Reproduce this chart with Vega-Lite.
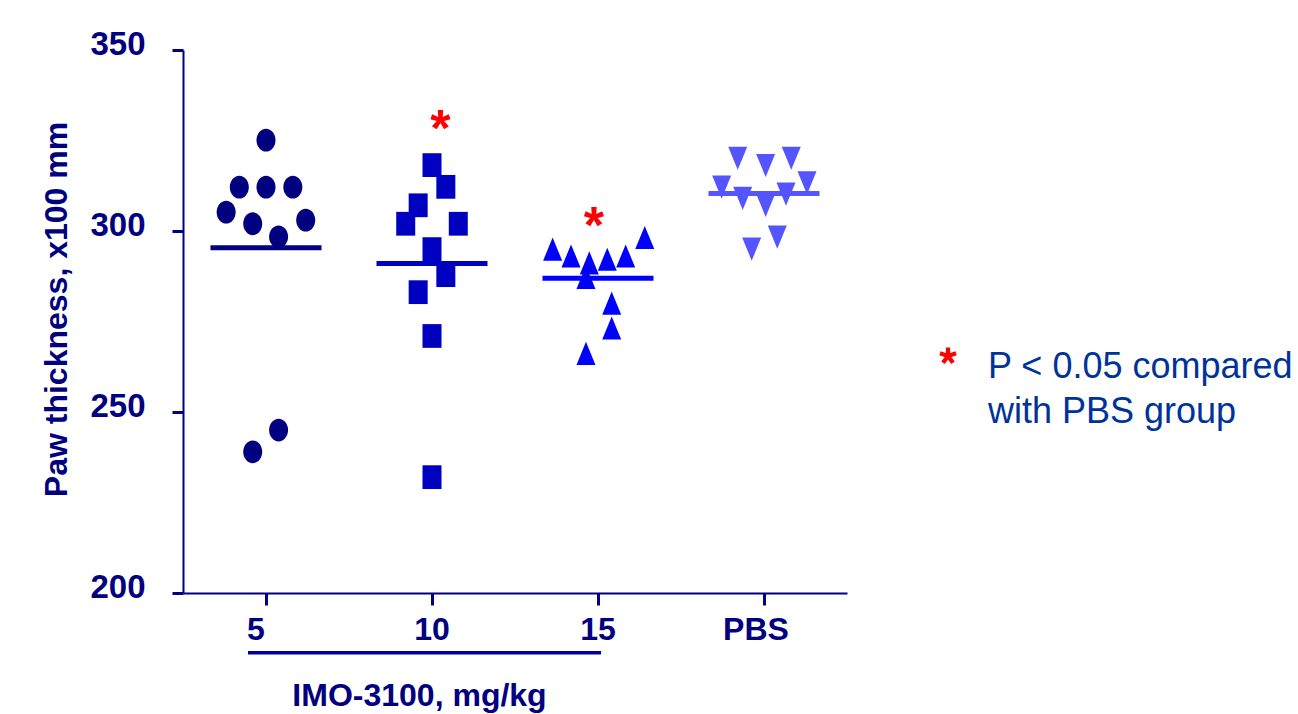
{
  "$schema": "https://vega.github.io/schema/vega-lite/v6.json",
  "width": 664,
  "height": 543,
  "autosize": {"type": "none"},
  "padding": {"left": 183, "top": 50, "right": 451, "bottom": 121},
  "background": "white",
  "config": {"view": {"stroke": null}, "font": "Liberation Sans"},
  "datasets": {
    "paw": [
      {"group": "5", "value": 325.1, "slot": 0},
      {"group": "5", "value": 312.1, "slot": -1.93},
      {"group": "5", "value": 312.1, "slot": 0},
      {"group": "5", "value": 312.1, "slot": 1.94},
      {"group": "5", "value": 305.2, "slot": -2.88},
      {"group": "5", "value": 302.0, "slot": -0.96},
      {"group": "5", "value": 303.0, "slot": 2.87},
      {"group": "5", "value": 298.4, "slot": 0.91},
      {"group": "5", "value": 245.0, "slot": 0.91},
      {"group": "5", "value": 239.0, "slot": -0.96},
      {"group": "10", "value": 318.2, "slot": 0},
      {"group": "10", "value": 312.2, "slot": 1},
      {"group": "10", "value": 307.1, "slot": -1},
      {"group": "10", "value": 302.0, "slot": -1.9},
      {"group": "10", "value": 302.0, "slot": 1.9},
      {"group": "10", "value": 295.0, "slot": 0},
      {"group": "10", "value": 287.8, "slot": 1},
      {"group": "10", "value": 283.1, "slot": -1},
      {"group": "10", "value": 271.0, "slot": 0},
      {"group": "10", "value": 232.0, "slot": 0},
      {"group": "15", "value": 295.0, "slot": -3.28},
      {"group": "15", "value": 293.1, "slot": -1.95},
      {"group": "15", "value": 291.2, "slot": -0.63},
      {"group": "15", "value": 292.2, "slot": 0.67},
      {"group": "15", "value": 293.1, "slot": 2.0},
      {"group": "15", "value": 298.2, "slot": 3.38},
      {"group": "15", "value": 287.2, "slot": -0.87},
      {"group": "15", "value": 280.1, "slot": 0.99},
      {"group": "15", "value": 273.2, "slot": 0.99},
      {"group": "15", "value": 266.2, "slot": -0.87},
      {"group": "PBS", "value": 320.1, "slot": -1.9},
      {"group": "PBS", "value": 318.1, "slot": 0.12},
      {"group": "PBS", "value": 320.1, "slot": 1.97},
      {"group": "PBS", "value": 312.1, "slot": -3.06},
      {"group": "PBS", "value": 313.3, "slot": 3.11},
      {"group": "PBS", "value": 309.0, "slot": -1.54},
      {"group": "PBS", "value": 307.1, "slot": 0.12},
      {"group": "PBS", "value": 310.2, "slot": 1.59},
      {"group": "PBS", "value": 298.3, "slot": 0.96},
      {"group": "PBS", "value": 295.0, "slot": -0.89}
    ],
    "stars": [
      {"group": "10", "label_y": 323.6, "slot": 0.6, "sym": "*", "note": "P < 0.05 compared with PBS group"},
      {"group": "15", "label_y": 296.7, "slot": -0.29, "sym": "*", "note": "P < 0.05 compared with PBS group"}
    ],
    "bracket": [
      {"from": "5", "to": "15"}
    ]
  },
  "layer": [
    {
      "data": {"name": "paw"},
      "mark": {"type": "point", "filled": true, "opacity": 1, "size": 361, "strokeWidth": 0},
      "encoding": {
        "x": {
          "field": "group",
          "type": "nominal",
          "sort": ["5", "10", "15", "PBS"],
          "scale": {"type": "band", "domain": ["5", "10", "15", "PBS"], "paddingInner": 0, "paddingOuter": 0},
          "axis": {
            "title": "IMO-3100, mg/kg",
            "labelAngle": 0,
            "labelFontSize": 32,
            "labelFontWeight": "bold",
            "labelColor": "#000080",
            "labelBaseline": "alphabetic",
            "labelPadding": 34,
            "labelOffset": {"condition": [{"test": "datum.value === '5'", "value": -10}, {"test": "datum.value === 'PBS'", "value": -8}], "value": 0},
            "domainColor": "#000080",
            "domainWidth": 2,
            "tickColor": "#000080",
            "tickWidth": 3,
            "tickSize": 12,
            "grid": false,
            "titleFontSize": 32,
            "titleFontWeight": "bold",
            "titleColor": "#000080",
            "titleX": 236,
            "titleY": 112,
            "titleAlign": "center",
            "titleBaseline": "alphabetic"
          }
        },
        "xOffset": {"field": "slot", "type": "quantitative", "scale": {"domain": [-6, 6], "nice": false, "zero": false}},
        "y": {
          "field": "value",
          "type": "quantitative",
          "scale": {"domain": [200, 350], "nice": false, "zero": false},
          "axis": {
            "title": "Paw thickness, x100 mm",
            "values": [200, 250, 300, 350],
            "grid": false,
            "labelFontSize": 33,
            "labelFontWeight": "bold",
            "labelColor": "#000080",
            "labelBaseline": "alphabetic",
            "labelOffset": 4,
            "labelPadding": 27,
            "labelFlush": false,
            "labelOverlap": false,
            "domainColor": "#000080",
            "domainWidth": 2,
            "tickColor": "#000080",
            "tickWidth": 3,
            "tickSize": 11,
            "titleFontSize": 32,
            "titleFontWeight": "bold",
            "titleColor": "#000080",
            "titleAngle": 270,
            "titleX": -117,
            "titleY": 259,
            "titleAlign": "center",
            "titleBaseline": "alphabetic"
          }
        },
        "fill": {
          "field": "group",
          "type": "nominal",
          "scale": {"domain": ["5", "10", "15", "PBS"], "range": ["#000080", "#0000C0", "#0000FF", "#5555FF"]},
          "legend": null
        },
        "shape": {
          "field": "group",
          "type": "nominal",
          "scale": {
            "domain": ["5", "10", "15", "PBS"],
            "range": [
              "M0,-1.2A1,1.2 0 1,1 0,1.2A1,1.2 0 1,1 0,-1.2Z",
              "M-1,-1.25L1,-1.25L1,1.25L-1,1.25Z",
              "M0,-1.22L1,1.22L-1,1.22Z",
              "M-1,-1.22L1,-1.22L0,1.22Z"
            ]
          },
          "legend": null
        }
      }
    },
    {
      "data": {"name": "paw"},
      "mark": {"type": "tick", "thickness": 5, "size": 111, "opacity": 1},
      "encoding": {
        "x": {"field": "group", "type": "nominal"},
        "y": {"aggregate": "mean", "field": "value", "type": "quantitative"},
        "fill": {"field": "group", "type": "nominal"}
      }
    },
    {
      "data": {"name": "bracket"},
      "mark": {"type": "rule", "strokeWidth": 3.5, "color": "#0000A0", "xOffset": -18, "x2Offset": 3},
      "encoding": {
        "x": {"field": "from", "type": "nominal"},
        "x2": {"field": "to"},
        "y": {"datum": 183.5, "type": "quantitative"}
      }
    },
    {
      "data": {"name": "stars"},
      "mark": {"type": "text", "fontSize": 52, "fontWeight": "bold", "baseline": "alphabetic", "align": "center"},
      "encoding": {
        "x": {"field": "group", "type": "nominal"},
        "xOffset": {"field": "slot", "type": "quantitative"},
        "y": {"field": "label_y", "type": "quantitative"},
        "text": {"field": "sym", "type": "nominal"},
        "color": {
          "field": "note",
          "type": "nominal",
          "scale": {"range": ["#FF0000"]},
          "legend": {
            "orient": "none",
            "legendX": 747,
            "legendY": 282,
            "title": null,
            "padding": 0,
            "symbolType": "M0.25,0.7L0.25,-0.3L-0.25,-0.3L-0.25,0.7ZM0.077,0.938L1.028,0.629L0.874,0.153L-0.077,0.462ZM0.077,0.462L-0.874,0.153L-1.028,0.629L-0.077,0.938ZM-0.202,0.847L0.386,1.656L0.79,1.362L0.202,0.553ZM-0.202,0.553L-0.79,1.362L-0.386,1.656L0.202,0.847Z",
            "symbolSize": 289,
            "symbolStrokeWidth": 0,
            "labelExpr": "['P < 0.05 compared', 'with PBS group']",
            "labelFont": "Liberation Sans",
            "labelFontSize": 36,
            "labelColor": "#003399",
            "labelBaseline": "top",
            "labelOffset": 22,
            "labelLimit": 800,
            "encode": {"labels": {"update": {"lineHeight": {"value": 45}}}}
          }
        }
      }
    }
  ]
}
